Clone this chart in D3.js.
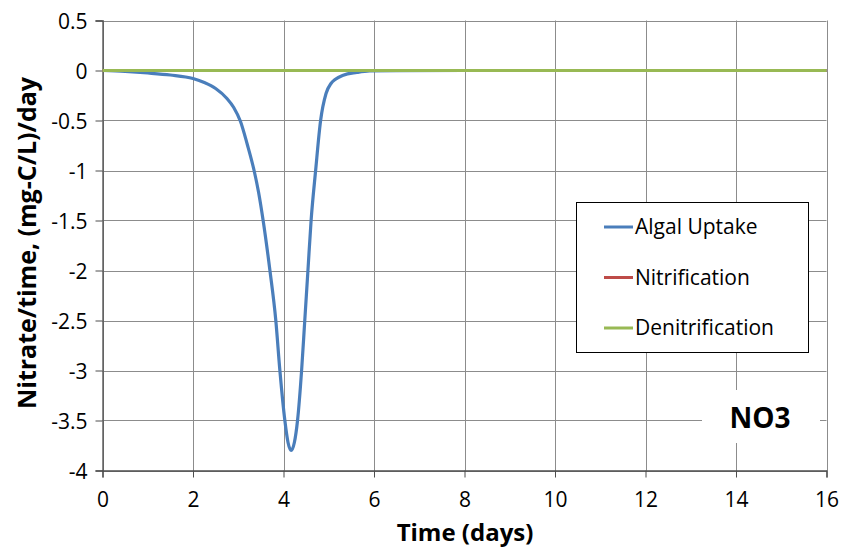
<!DOCTYPE html>
<html>
<head>
<meta charset="utf-8">
<script src="https://cdn.jsdelivr.net/npm/d3@7"></script>
<style>
  html, body { margin: 0; padding: 0; background: #fff; }
  svg { display: block; }
  text { font-family: "Open Sans", "Noto Sans", sans-serif; fill: #000; }
</style>
</head>
<body>
<svg id="chart" width="842" height="548"></svg>
<script>
// Simulation time (days)
const days = [0, 0.5, 1, 1.5, 2, 2.25, 2.5, 2.75, 2.9, 3.05, 3.2, 3.35, 3.45, 3.55, 3.7, 3.83, 3.92, 4.03, 4.1, 4.17,
              4.24, 4.31, 4.4, 4.47, 4.54, 4.61, 4.71, 4.82, 4.94, 5.05, 5.14, 5.32, 5.62, 5.9, 6.5, 8, 10, 12, 14, 16];
// Nitrate rate terms, (mg-C/L)/day
const algalUptake = [0, -0.01, -0.025, -0.045, -0.08, -0.12, -0.18, -0.28, -0.37, -0.51, -0.74, -1.0, -1.22, -1.5, -2.0, -2.5, -3.0, -3.5, -3.72, -3.8,
                     -3.72, -3.5, -3.0, -2.5, -2.0, -1.5, -1.0, -0.5, -0.23, -0.13, -0.09, -0.047, -0.02, -0.005, -0.001, 0, 0, 0, 0, 0];
const nitrification = days.map(() => 0);
const denitrification = days.map(() => 0);

const seriesNames = ["Algal Uptake", "Nitrification", "Denitrification"];
const seriesColors = ["#4a7ebb", "#be4b48", "#98b954"];
const seriesValues = [algalUptake, nitrification, denitrification];

const xTicks = [0, 2, 4, 6, 8, 10, 12, 14, 16];
const yTicks = [0.5, 0, -0.5, -1, -1.5, -2, -2.5, -3, -3.5, -4];

const svg = d3.select("#chart");

const x = d3.scaleLinear().domain([0, 16]).range([102.5, 826.5]);
const y = d3.scaleLinear().domain([-4, 0.5]).range([470.5, 20.5]);

// gridlines
const grid = svg.append("g");
grid.selectAll("line.h").data(yTicks).join("line")
  .attr("x1", x(0)).attr("x2", x(16))
  .attr("y1", d => Math.round(y(d)) + 0.5).attr("y2", d => Math.round(y(d)) + 0.5)
  .attr("stroke", "#8c8c8c").attr("stroke-width", 1);
grid.selectAll("line.v").data(xTicks).join("line")
  .attr("x1", d => Math.round(x(d)) + 0.5).attr("x2", d => Math.round(x(d)) + 0.5)
  .attr("y1", y(0.5)).attr("y2", y(-4))
  .attr("stroke", "#8c8c8c").attr("stroke-width", 1);

// axes
const xAxis = d3.axisBottom(x).tickValues(xTicks).tickSize(7).tickPadding(15).tickFormat(d3.format("d"));
const yAxis = d3.axisLeft(y).tickValues(yTicks).tickSize(7).tickPadding(8).tickFormat(d => d3.format("")(d).replace("−", "-"));

const gx = svg.append("g").attr("transform", `translate(0,${y(-4)})`).call(xAxis);
const gy = svg.append("g").attr("transform", `translate(${x(0)},0)`).call(yAxis);
[gx, gy].forEach(g => {
  g.select(".domain").attr("stroke", "#4d4d4d").attr("stroke-width", 1.3);
  g.selectAll(".tick line").attr("stroke", "#4d4d4d");
  g.selectAll(".tick text").attr("font-size", 21).attr("font-family", "'Open Sans', sans-serif").attr("fill", "#000");
});
gy.selectAll(".tick text").attr("dy", "0.36em");

// NO3 label with white backing
svg.append("rect").attr("x", 702).attr("y", 390).attr("width", 118).attr("height", 53).attr("fill", "#fff");
svg.append("text").attr("x", 760).attr("y", 428).attr("text-anchor", "middle")
  .attr("font-size", 28).attr("font-weight", "bold").text("NO3");

// series lines
const line = d3.line().x((d, i) => x(days[i])).y(d => y(d)).curve(d3.curveMonotoneX);
const lines = svg.append("g").attr("fill", "none").attr("stroke-width", 3.2).attr("stroke-linejoin", "round");
seriesValues.forEach((vals, k) => {
  lines.append("path").attr("d", line(vals)).attr("stroke", seriesColors[k]);
});

// legend
const lg = svg.append("g");
lg.append("rect").attr("x", 576.5).attr("y", 202.5).attr("width", 232).attr("height", 150)
  .attr("fill", "#fff").attr("stroke", "#000").attr("stroke-width", 1);
seriesNames.forEach((name, k) => {
  const cy = 227 + k * 50.5;
  lg.append("line").attr("x1", 604).attr("x2", 633).attr("y1", cy).attr("y2", cy)
    .attr("stroke", seriesColors[k]).attr("stroke-width", 3);
  lg.append("text").attr("x", 635).attr("y", cy).attr("dy", "0.35em")
    .attr("font-size", 21).text(name);
});

// axis titles
svg.append("text").attr("x", 465).attr("y", 541).attr("text-anchor", "middle")
  .attr("font-size", 24).attr("font-weight", "bold").text("Time (days)");
svg.append("text").attr("transform", "translate(36,243) rotate(-90)").attr("text-anchor", "middle")
  .attr("font-size", 25).attr("font-weight", "bold").text("Nitrate/time,  (mg-C/L)/day");
</script>
</body>
</html>
